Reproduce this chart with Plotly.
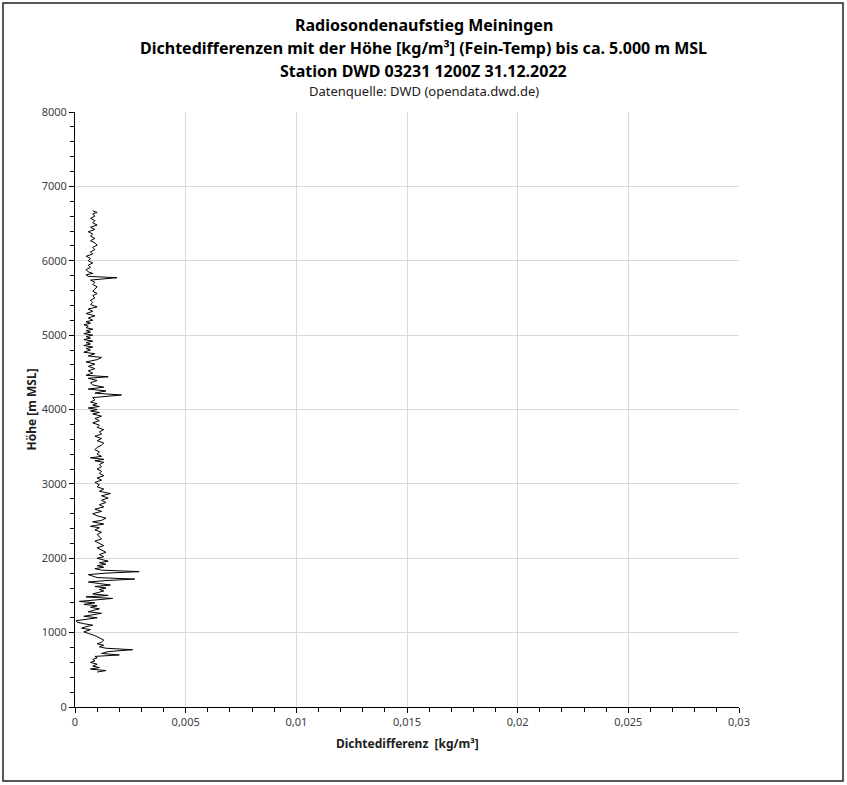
import plotly.graph_objects as go

# Höhe [m MSL]
height_m = [470, 490, 510, 530, 550, 575, 600, 620, 640, 660, 680, 700, 720, 745, 770, 790, 810, 830, 850,
            870, 900, 930, 960, 990, 1010, 1040, 1060, 1080, 1100, 1120, 1140, 1160, 1180, 1200, 1220, 1240,
            1260, 1280, 1300, 1320, 1340, 1360, 1380, 1400, 1420, 1440, 1460, 1480, 1500, 1520, 1540, 1560,
            1580, 1600, 1620, 1640, 1660, 1680, 1700, 1720, 1740, 1760, 1780, 1800, 1820, 1840, 1860, 1880,
            1900, 1920, 1940, 1960, 1980, 2000, 2020, 2050, 2080, 2110, 2140, 2170, 2200, 2230, 2260, 2290,
            2320, 2350, 2380, 2410, 2430, 2460, 2490, 2510, 2540, 2570, 2600, 2630, 2660, 2690, 2720, 2750,
            2780, 2810, 2840, 2870, 2900, 2930, 2960, 2990, 3020, 3050, 3080, 3110, 3140, 3170, 3200, 3230,
            3260, 3290, 3310, 3330, 3350, 3370, 3400, 3430, 3460, 3490, 3520, 3550, 3580, 3610, 3640, 3670,
            3700, 3730, 3760, 3790, 3820, 3850, 3880, 3910, 3940, 3960, 3980, 4000, 4020, 4040, 4060, 4080,
            4100, 4130, 4160, 4195, 4220, 4250, 4275, 4300, 4330, 4360, 4390, 4420, 4440, 4460, 4490, 4520,
            4550, 4580, 4610, 4640, 4670, 4700, 4720, 4750, 4770, 4800, 4820, 4840, 4860, 4880, 4900, 4920,
            4940, 4960, 4980, 5000, 5020, 5040, 5060, 5080, 5100, 5120, 5140, 5160, 5180, 5200, 5230, 5260,
            5290, 5320, 5350, 5380, 5410, 5440, 5470, 5500, 5530, 5560, 5590, 5620, 5650, 5680, 5710, 5740,
            5772, 5790, 5810, 5830, 5850, 5880, 5910, 5940, 5970, 6000, 6030, 6060, 6090, 6120, 6150, 6180,
            6210, 6240, 6270, 6300, 6330, 6360, 6390, 6420, 6450, 6480, 6510, 6540, 6570, 6600, 6630, 6650,
            6670]

# Dichtedifferenz in 1e-4 kg/m³
dichte_e4 = [10, 14, 7, 11, 8, 10, 7, 9, 8, 10, 9, 20, 12, 15, 26, 14, 11, 13, 10,
             12, 13, 11, 9, 6, 4, 7, 3, 5, 8, 4, 1, 0.5, 6, 10, 4, 8,
             12, 6, 9, 11, 7, 10, 4, 9, 2, 12, 17, 5, 15, 8, 10, 13,
             11, 14, 9, 16, 11, 6, 14, 27, 10, 8, 6, 14, 29, 12, 9, 13,
             10, 14, 11, 15, 12, 10, 13, 11, 14, 12, 10, 13, 11, 9, 12, 11,
             10, 12, 9, 11, 7, 13, 8, 12, 14, 10, 8, 12, 9, 13, 11, 14,
             12, 15, 12, 16, 11, 13, 10, 11, 9, 12, 10, 13, 11, 12, 10, 12,
             11, 13, 9, 13, 7, 12, 10, 11, 9, 10, 12, 13, 10, 12, 9, 12,
             11, 13, 10, 11, 8, 11, 9, 12, 8, 11, 7, 10, 6, 11, 8, 10,
             7, 9, 8, 21, 9, 14, 6, 13, 8, 7, 10, 6, 15, 5, 8, 6,
             9, 6, 9, 5, 10, 12, 6, 9, 4, 7, 5, 8, 4, 7, 5, 8,
             4, 7, 5, 8, 4, 7, 5, 8, 5, 6, 4, 7, 5, 8, 6, 9,
             5, 8, 6, 10, 7, 8, 7, 9, 8, 10, 8, 9, 10, 8, 9, 7,
             19, 6, 5, 8, 6, 5, 7, 6, 8, 6, 7, 5, 8, 7, 9, 8,
             10, 9, 7, 9, 7, 8, 6, 9, 7, 10, 8, 9, 7, 9, 8, 10,
             8]

x_tickvals = [0, 0.005, 0.01, 0.015, 0.02, 0.025, 0.03]
x_ticktext = ["0", "0,005", "0,01", "0,015", "0,02", "0,025", "0,03"]
y_tickvals = [0, 1000, 2000, 3000, 4000, 5000, 6000, 7000, 8000]

title_lines = ["Radiosondenaufstieg Meiningen",
               "Dichtedifferenzen mit der Höhe [kg/m³] (Fein-Temp) bis ca. 5.000 m MSL",
               "Station DWD 03231 1200Z 31.12.2022"]
subtitle = "Datenquelle: DWD (opendata.dwd.de)"

FONT = "Noto Sans, sans-serif"

dichte = [v * 1e-4 for v in dichte_e4]

fig = go.Figure()
fig.add_trace(go.Scatter(x=dichte, y=height_m, mode="lines",
                         line=dict(color="black", width=1), showlegend=False))

W, H = 847, 785
L, R, T, B = 75, 108, 112, 78
PW, PH = W - L - R, H - T - B

def px(xp):
    return (xp - L) / PW

def py(yp):
    return (H - B - yp) / PH

axis_common = dict(showline=True, linecolor="black", linewidth=1, ticks="outside",
                   ticklen=5, tickcolor="black", showgrid=True, gridcolor="#d9d9d9",
                   gridwidth=1, zeroline=False, tickfont=dict(family=FONT, size=11, color="#404040"))

fig.update_layout(
    width=W, height=H,
    margin=dict(l=L, r=R, t=T, b=B),
    paper_bgcolor="white", plot_bgcolor="white",
    font=dict(family=FONT, color="black"),
    xaxis=dict(range=[0, 0.03], tickvals=x_tickvals, ticktext=x_ticktext,
               minor=dict(dtick=0.001, ticks="outside", ticklen=4, tickcolor="black", showgrid=False),
               **axis_common),
    yaxis=dict(range=[0, 8000], tickvals=y_tickvals,
               minor=dict(dtick=200, ticks="outside", ticklen=4, tickcolor="black", showgrid=False),
               **axis_common),
)

annos = []
for txt, yp in zip(title_lines, [25, 48, 71]):
    annos.append(dict(text="<b>" + txt + "</b>", x=px(W / 2), y=py(yp), xref="paper", yref="paper",
                      showarrow=False, xanchor="center", yanchor="middle",
                      font=dict(family=FONT, size=16, color="black")))
annos.append(dict(text=subtitle, x=px(W / 2), y=py(91), xref="paper", yref="paper",
                  showarrow=False, xanchor="center", yanchor="middle",
                  font=dict(family=FONT, size=13, color="#202020")))
annos.append(dict(text="<b>Dichtedifferenz  [kg/m³]</b>", x=0.5, y=py(743), xref="paper", yref="paper",
                  showarrow=False, xanchor="center", yanchor="middle",
                  font=dict(family=FONT, size=12, color="#202020")))
annos.append(dict(text="<b>Höhe [m MSL]</b>", x=px(31), y=0.5, xref="paper", yref="paper",
                  showarrow=False, xanchor="center", yanchor="middle", textangle=-90,
                  font=dict(family=FONT, size=12, color="#202020")))
fig.update_layout(annotations=annos)

fig.add_shape(type="rect", xref="paper", yref="paper",
              x0=px(3), x1=px(843), y0=py(781), y1=py(3),
              line=dict(color="#202020", width=1.5), fillcolor="rgba(0,0,0,0)", layer="below")

fig.write_html("out.html", config={"displayModeBar": False},
               post_script="document.body.style.margin='0px';document.body.style.overflow='hidden';")
